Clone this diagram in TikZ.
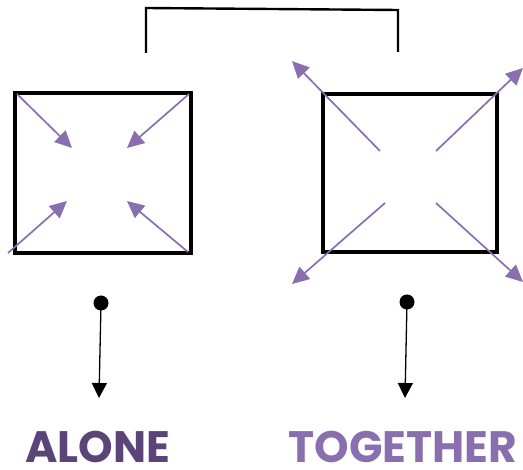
\documentclass[tikz,border=0pt]{standalone}
\usepackage{fontspec}
\setmainfont{Poppins}
\usepackage{xcolor}
\usepackage{tikz}
\usetikzlibrary{positioning, arrows.meta}

\definecolor{darkpurple}{HTML}{5A4478}
\definecolor{lightpurple}{HTML}{8A6FAE}

\begin{document}
\begin{tikzpicture}[
  x=1pt, y=-1pt,
  box/.style={draw, line width=4pt, line join=miter},
  ray/.style={draw=lightpurple, line width=1.7pt, -{Triangle[length=17pt, width=16pt]}},
  drop/.style={draw, line width=1.3pt, -{Triangle[length=15pt, width=15pt]}},
  label/.style={font=\bfseries\fontsize{44}{44}\selectfont, anchor=base, inner sep=0pt}
]
\useasboundingbox (0,0) rectangle (523,470);

% squares
\draw[box] (15,93) rectangle (191,253);
\draw[box] (323,94) rectangle (497,252);

% bracket
\coordinate (bl) at (146,53);
\coordinate (br) at (398,52);
\draw[line width=2.4pt] (bl) -- (146,8) -- (398,10) -- (br);

% alone: arrows pointing in
\coordinate (a1) at (17,94);   \coordinate (a1t) at (72,148);
\coordinate (a2) at (189,94);  \coordinate (a2t) at (127,148);
\coordinate (a3) at (8,253);   \coordinate (a3t) at (67,201);
\coordinate (a4) at (188,252); \coordinate (a4t) at (127,201);
\foreach \s/\t in {a1/a1t, a2/a2t, a3/a3t, a4/a4t}
  \draw[ray] (\s) -- (\t);

% together: arrows pointing out
\coordinate (t1) at (380,151); \coordinate (t1t) at (292,61);
\coordinate (t2) at (436,151); \coordinate (t2t) at (523,68);
\coordinate (t3) at (385,203); \coordinate (t3t) at (292,284);
\coordinate (t4) at (436,203); \coordinate (t4t) at (523,282);
\foreach \s/\t in {t1/t1t, t2/t2t, t3/t3t, t4/t4t}
  \draw[ray] (\s) -- (\t);

% dots and drops
\node[circle, fill, inner sep=0pt, minimum size=15pt] (dotA) at (101,303) {};
\node[circle, fill, inner sep=0pt, minimum size=15pt] (dotT) at (407,302) {};
\coordinate (endA) at (99,398);
\coordinate (endT) at (405,398);
\draw[drop] (dotA.center) -- (endA);
\draw[drop] (dotT.center) -- (endT);

% labels
\node[label, text=darkpurple] (alone) at (98,463) {ALONE};
\node[label, text=lightpurple] (together) at (403,463) {TOGETHER};

\end{tikzpicture}
\end{document}
